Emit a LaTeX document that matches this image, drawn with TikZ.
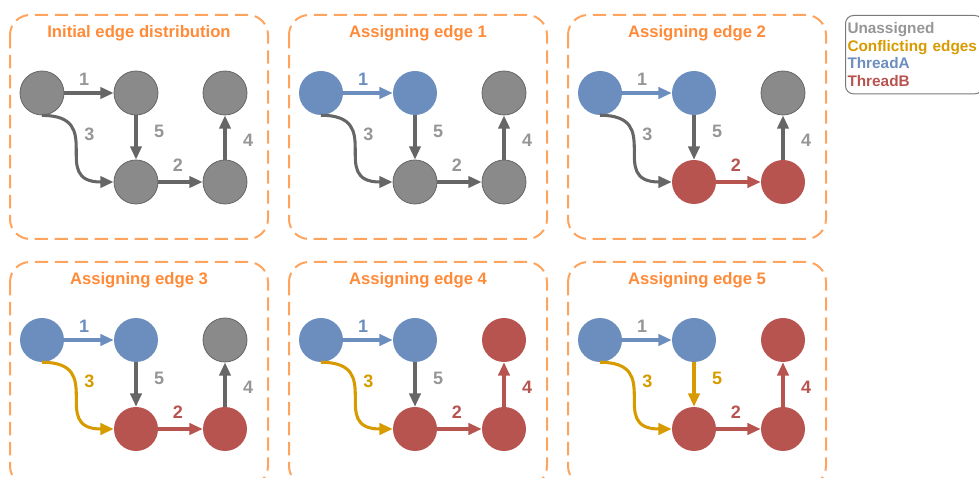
\documentclass[tikz,border=0pt]{standalone}
\usepackage{fontspec}
\setmainfont{Liberation Sans}
\usetikzlibrary{arrows.meta,calc}

\definecolor{unasg}{HTML}{8A8A8A}
\definecolor{unasgline}{HTML}{666666}
\definecolor{unasgtext}{HTML}{969696}
\definecolor{thra}{HTML}{6C8EBF}
\definecolor{thrb}{HTML}{B85450}
\definecolor{confl}{HTML}{D79B00}
\definecolor{frame}{HTML}{FFA45E}
\definecolor{headcol}{HTML}{FF8A38}
\definecolor{legline}{HTML}{7A7A7A}

\begin{document}
\begin{tikzpicture}[x=0.75pt,y=0.75pt,%
        vtx/.style={circle,minimum size=33pt,inner sep=0pt},
        vun/.style={vtx,fill=unasg,draw=unasgline,line width=0.6pt},
        vta/.style={vtx,fill=thra},
        vtb/.style={vtx,fill=thrb},
        edg/.style={line width=2.3pt,-{Triangle[length=10pt,width=8.5pt]}},
        eun/.style={edg,color=unasgline},
        eta/.style={edg,color=thra},
        etb/.style={edg,color=thrb},
        ecf/.style={edg,color=confl},
        lbl/.style={font=\bfseries\fontsize{13.5}{16}\selectfont,inner sep=3pt},
        frm/.style={draw=frame,line width=1.5pt,dash pattern=on 10pt off 5pt,rounded corners=15pt},
        ttl/.style={text=headcol,font=\bfseries\fontsize{12.5}{15}\selectfont},
        lgd/.style={draw=legline,line width=0.75pt,rounded corners=6pt,align=left,
          text width=100pt,inner xsep=1.5pt,inner ysep=5.5pt,
          font=\bfseries\fontsize{11.5}{13.1}\selectfont}]

        \useasboundingbox (0,0) rectangle (979,478);
        \clip (0,0) rectangle (979,478);

        %% one panel per step: column/row, title, vertex styles a..e, edge styles 1..5, label colours 1..5
        \foreach \col/\row/\head/\vA/\vB/\vC/\vD/\vE/\eA/\eB/\eC/\eD/\eE/\lA/\lB/\lC/\lD/\lE [count=\p] in {%
          0/0/Initial edge distribution/vun/vun/vun/vun/vun/eun/eun/eun/eun/eun/unasgtext/unasgtext/unasgtext/unasgtext/unasgtext,
          1/0/Assigning edge 1/vta/vta/vun/vun/vun/eta/eun/eun/eun/eun/thra/unasgtext/unasgtext/unasgtext/unasgtext,
          2/0/Assigning edge 2/vta/vta/vtb/vun/vtb/eta/etb/eun/eun/eun/unasgtext/thrb/unasgtext/unasgtext/unasgtext,
          0/1/Assigning edge 3/vta/vta/vtb/vun/vtb/eta/etb/ecf/eun/eun/thra/thrb/confl/unasgtext/unasgtext,
          1/1/Assigning edge 4/vta/vta/vtb/vtb/vtb/eta/etb/ecf/etb/eun/thra/thrb/confl/thrb/unasgtext,
          2/1/Assigning edge 5/vta/vta/vtb/vtb/vtb/eta/etb/ecf/etb/ecf/unasgtext/thrb/confl/thrb/confl} {
          \coordinate (org_p\p) at (10+279*\col,463-247*\row);
          \draw[frm] (org_p\p) rectangle ($(org_p\p)+(258,-224)$);
          \node[ttl] (ttl_p\p) at ($(org_p\p)+(129,-18)$) {\head};

          \node[\vA] (vtx_p\p_a) at ($(org_p\p)+(32,-78)$) {};
          \node[\vB] (vtx_p\p_b) at ($(org_p\p)+(126,-78)$) {};
          \node[\vD] (vtx_p\p_d) at ($(org_p\p)+(215,-78)$) {};
          \node[\vC] (vtx_p\p_c) at ($(org_p\p)+(126,-167)$) {};
          \node[\vE] (vtx_p\p_e) at ($(org_p\p)+(215,-167)$) {};

          \draw[\eA] (vtx_p\p_a) -- node[lbl,above=1.5pt,pos=.4,text=\lA] (lbl_p\p_1) {1} (vtx_p\p_b);
          \draw[\eB] (vtx_p\p_c) -- node[lbl,above=4pt,pos=.44,text=\lB] (lbl_p\p_2) {2} (vtx_p\p_e);
          \draw[\eC] (vtx_p\p_a.south) to[out=0,in=180,looseness=1.7]
            node[lbl,right=2.5pt,pos=.35,text=\lC] (lbl_p\p_3) {3} (vtx_p\p_c.west);
          \draw[\eD] (vtx_p\p_e) -- node[lbl,right=9.5pt,pos=.44,text=\lD] (lbl_p\p_4) {4} (vtx_p\p_d);
          \draw[\eE] (vtx_p\p_b) -- node[lbl,right=9.5pt,pos=.36,text=\lE] (lbl_p\p_5) {5} (vtx_p\p_c);
        }

        %% legend
        \node[lgd,anchor=north west] (legend) at (845,463) {%
          \textcolor{unasgtext}{Unassigned}\\
          \textcolor{confl}{Conflicting edges}\\
          \textcolor{thra}{ThreadA}\\
          \textcolor{thrb}{ThreadB}};

\end{tikzpicture}
\end{document}
